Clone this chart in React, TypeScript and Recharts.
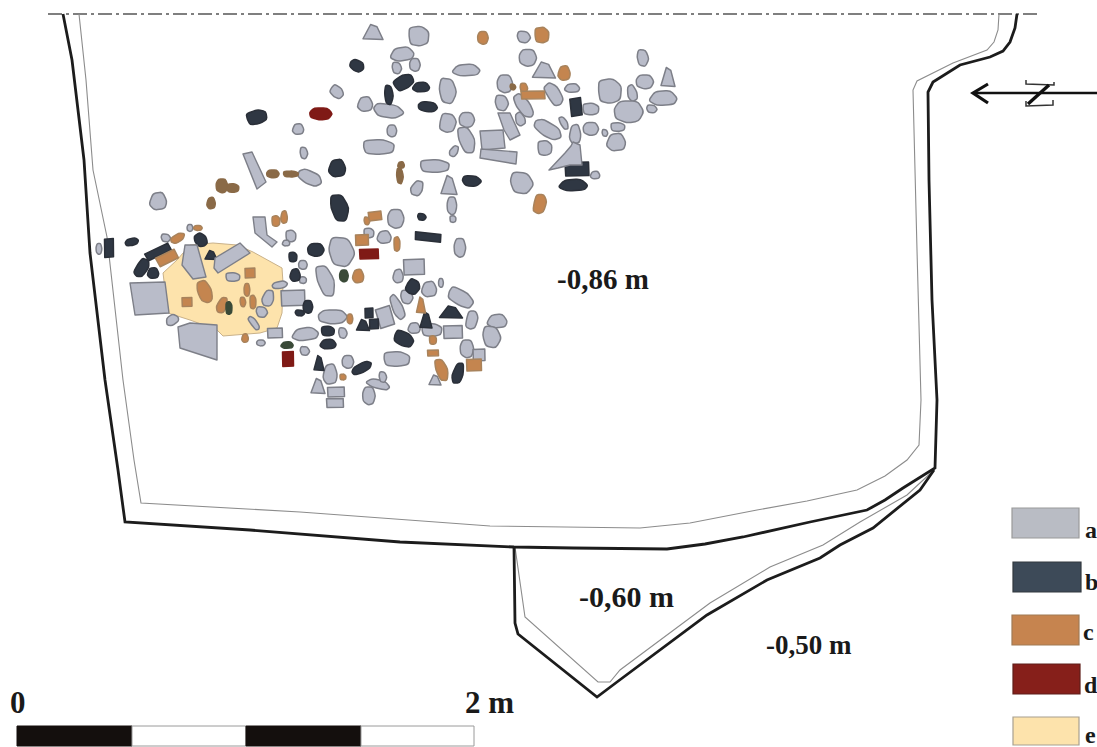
import { ReferenceArea, Scatter, ScatterChart, XAxis, YAxis } from 'recharts';

type Pt = [number, number];
// x, y, width, height, rotation, outline type
type Stone = [number, number, number, number, number?, number?];

// the trench edge
const datumLine: Pt[] = [[48, 14], [1040, 14]];
const outerEdge: Pt[] = [[63, 14], [72, 60], [78, 110], [84, 160], [90, 253], [105, 380], [118, 470], [125, 522], [250, 530], [400, 542], [514, 547], [573, 548], [667, 549], [705, 544], [743, 537], [810, 522], [867, 510], [885, 500], [903, 488], [935, 468], [937, 400], [932, 300], [929, 180], [928, 92], [933, 82], [960, 65], [990, 57], [1003, 51], [1010, 42], [1015, 28], [1017, 14]];
const innerEdge: Pt[] = [[79, 14], [86, 80], [93, 170], [107, 237], [123, 380], [134, 460], [141, 503], [300, 512], [490, 526], [640, 528], [690, 523], [757, 510], [807, 501], [857, 490], [885, 476], [907, 460], [919, 445], [921, 400], [917, 250], [913, 90], [917, 81], [953, 63], [987, 50], [994, 42], [998, 30], [999, 14]];
const lobeOuter: Pt[] = [[514, 547], [515, 623], [518, 634], [597, 697], [617, 682], [707, 615], [767, 580], [820, 558], [840, 545], [873, 528], [920, 490], [934, 470]];
const lobeInner: Pt[] = [[515, 547], [525, 617], [598, 682], [610, 682], [620, 670], [710, 603], [770, 567], [823, 545], [860, 522], [907, 495], [934, 470]];
const arrowShaft: Pt[] = [[974, 93], [1097, 93]];
const arrowHead: Pt[] = [[988, 84], [973, 93], [988, 103]];
const northTop: Pt[] = [[1026, 80], [1026, 84], [1054, 85], [1054, 82]];
const northBottom: Pt[] = [[1026, 101], [1026, 106], [1053, 105], [1053, 100]];
const northSlash: Pt[] = [[1049, 85], [1028, 104]];

// stones drawn with their own outline
const yellowPatch: Pt[] = [[163, 273], [177, 260], [190, 245], [213, 243], [237, 245], [253, 252], [282, 268], [283, 283], [282, 313], [277, 328], [260, 333], [223, 336], [217, 330], [190, 320], [168, 313]];
const bigGrey: Pt[][] = [
  [[130, 283], [165, 282], [169, 313], [135, 315]],
  [[178, 327], [190, 323], [217, 325], [217, 360], [180, 348]],
  [[185, 245], [197, 245], [206, 277], [193, 279], [182, 265]],
  [[215, 258], [240, 243], [250, 253], [218, 273], [214, 268]],
  [[253, 217], [265, 217], [267, 235], [277, 242], [272, 247], [255, 233]],
  [[549, 170], [565, 153], [571, 146], [573, 142], [580, 145], [582, 165], [570, 165], [558, 168]],
  [[243, 154], [252, 152], [266, 182], [257, 189]],
  [[480, 131], [503, 130], [505, 148], [482, 150]],
  [[481, 149], [517, 152], [516, 164], [480, 158]],
  [[498, 113], [510, 113], [520, 135], [510, 140], [504, 130]],
];

const greyStones: Stone[] = [
  [373, 32, 20, 15, 0, 5], [419, 36, 20, 20], [402, 54, 25, 14, -5], [397, 68, 10, 12], [415, 65, 11, 13], [337, 92, 14, 11, 40], [365, 104, 16, 15], [389, 111, 32, 14, 5], [392, 131, 10, 12], [379, 147, 31, 15], [298, 129, 12, 11], [304, 153, 8, 12], [310, 178, 26, 13, 25], [435, 166, 29, 13], [417, 188, 12, 16, 25],
  [524, 37, 14, 12], [528, 58, 18, 17], [544, 70, 23, 16, 0, 5], [466, 70, 29, 12], [448, 91, 18, 26], [505, 84, 16, 18], [554, 94, 13, 25, -30], [572, 88, 16, 9], [502, 103, 14, 16], [524, 106, 13, 27, -35], [610, 91, 23, 25], [632, 93, 10, 17, -15], [643, 58, 12, 17], [645, 82, 18, 14], [668, 77, 14, 19, 0, 5], [663, 98, 29, 15], [652, 109, 11, 8], [629, 112, 30, 22], [618, 127, 14, 9], [616, 142, 20, 18], [605, 133, 6, 7], [591, 129, 16, 13], [591, 109, 16, 12], [575, 134, 12, 20], [564, 123, 7, 14, -25], [548, 130, 31, 14, 30], [545, 148, 14, 15], [520, 119, 10, 14, -20], [467, 140, 16, 28, -15], [467, 120, 16, 15], [448, 123, 16, 19, 15], [454, 151, 8, 12, 30], [449, 185, 16, 19, 0, 5], [452, 206, 10, 18], [453, 219, 6, 7], [595, 175, 10, 8], [522, 183, 24, 22],
  [396, 219, 17, 19], [369, 233, 10, 10], [384, 237, 15, 13], [342, 252, 27, 30], [460, 248, 12, 19], [414, 267, 21, 16, 0, 4], [398, 276, 11, 14], [326, 281, 17, 33, -15], [303, 265, 9, 9], [303, 280, 7, 7], [429, 289, 16, 16], [407, 297, 13, 14], [441, 283, 5, 9], [461, 298, 27, 15, 30], [397, 307, 11, 27, -25], [385, 317, 15, 20, -15, 4], [333, 317, 30, 14], [472, 320, 11, 19, 15], [497, 321, 21, 14], [492, 337, 19, 22], [453, 332, 19, 13, 0, 4], [432, 330, 20, 13], [414, 328, 13, 11], [343, 333, 9, 11], [467, 349, 14, 18], [479, 355, 12, 12, 0, 4], [305, 334, 28, 13, -5], [305, 351, 10, 9], [348, 362, 12, 13], [397, 359, 26, 15], [330, 374, 15, 21], [318, 386, 14, 15, 0, 5], [336, 392, 17, 10, 0, 4], [335, 403, 17, 9, 0, 4], [378, 384, 25, 9, 15], [383, 377, 8, 11], [369, 396, 13, 18], [435, 380, 12, 10, 0, 5],
  [158, 201, 18, 18], [166, 238, 10, 8], [99, 249, 6, 11], [233, 277, 14, 9], [268, 298, 12, 17, 15], [262, 312, 12, 11], [280, 285, 16, 7, -10], [254, 323, 6, 16, -35], [172, 320, 14, 10, -30], [275, 333, 15, 10, 0, 4], [261, 343, 9, 6], [291, 236, 10, 12], [286, 243, 8, 6], [293, 298, 24, 16, 0, 4], [190, 228, 6, 7],
];
const darkStones: Stone[] = [
  [357, 66, 15, 11, 25], [404, 82, 20, 14, -30], [421, 87, 18, 10], [389, 95, 9, 20], [428, 107, 20, 10, 5], [257, 117, 20, 14, -15], [337, 168, 18, 18], [340, 208, 18, 28, -10],
  [576, 107, 11, 18, -5, 4], [577, 169, 24, 14, 0, 4], [573, 185, 30, 12], [472, 181, 20, 11],
  [316, 250, 17, 13], [293, 257, 8, 10], [295, 275, 11, 13], [422, 217, 9, 7], [428, 237, 26, 8, 7, 4], [413, 287, 13, 15, 35], [451, 312, 23, 12, 0, 5], [426, 320, 12, 16, 0, 5], [363, 325, 13, 11, 0, 5], [369, 313, 8, 10, 0, 4], [374, 324, 9, 10, 0, 4], [300, 313, 10, 6], [308, 307, 10, 13], [328, 331, 13, 10], [328, 344, 17, 10], [319, 363, 10, 15, 0, 5], [362, 368, 22, 9, -28], [404, 339, 20, 14, 25], [458, 373, 11, 22, 15],
  [109, 248, 9, 19, 0, 4], [132, 242, 14, 7, -15], [142, 268, 11, 20, 35], [153, 273, 12, 11], [158, 252, 26, 8, -25, 4], [201, 240, 12, 14, -35], [211, 255, 12, 9, 0, 5],
];
const orangeStones: Stone[] = [
  [483, 38, 11, 13], [542, 35, 14, 16], [564, 73, 13, 15], [524, 88, 8, 10], [533, 95, 24, 8, 0, 4], [540, 204, 12, 20, 15],
  [375, 216, 13, 9, -5, 4], [367, 221, 6, 8], [362, 240, 13, 11, 0, 4], [397, 244, 6, 15], [358, 276, 12, 14], [421, 305, 9, 16, 0, 5], [350, 319, 6, 10], [433, 340, 7, 9], [433, 353, 11, 6, 0, 4], [442, 370, 12, 23, -15], [474, 365, 15, 12, 0, 4], [343, 377, 6, 6],
  [167, 258, 21, 10, -25, 4], [178, 238, 16, 8, -35], [198, 228, 9, 5], [276, 221, 8, 11], [284, 217, 7, 13], [250, 273, 10, 10, 0, 4], [205, 292, 14, 23, -20], [187, 302, 10, 9, 0, 4], [222, 305, 10, 17, 20], [243, 302, 6, 10], [247, 290, 6, 13], [253, 302, 6, 14], [245, 338, 7, 9],
];
const brownStones: Stone[] = [
  [273, 174, 13, 8], [291, 174, 15, 6], [401, 165, 7, 7], [400, 176, 7, 16], [222, 186, 12, 14], [233, 188, 12, 9], [211, 203, 9, 12], [513, 87, 6, 6],
];
const redStones: Stone[] = [
  [321, 114, 23, 12], [369, 254, 19, 10, 0, 4], [288, 359, 11, 15, 0, 4],
];
const greenStones: Stone[] = [
  [344, 276, 9, 12], [229, 308, 6, 13], [287, 345, 13, 7],
];

const legendLabels = ['a', 'b', 'c', 'd', 'e'];
const legendTop = [508, 562, 615, 664, 717];
const legendBottom = [538, 592, 645, 694, 745];
const legendLeft = [1012, 1013, 1012, 1013, 1013];
const legendRight = [1079, 1081, 1079, 1080, 1079];
const legendBaseline = [538, 590, 640, 693, 743];
const legendTextX = [1085, 1085, 1083, 1084, 1085];

const scaleTicks = [17, 132, 246, 361, 474];

const depthLabels = ['-0,86 m', '-0,60 m', '-0,50 m'];
const depthX = [557, 579, 766];
const depthY = [289, 607, 654];
const depthSize = [29, 30, 27];

const scaleLabels = ['0', '2 m'];
const scaleLabelX = [10, 465];
const scaleLabelY = [713, 713];

const FONT = '"Liberation Serif", serif';
const GREY = { fill: '#b9bcc9', stroke: '#7d7f88' };
const DARK = { fill: '#2f3743', stroke: '#2a2f38' };
const ORANGE = { fill: '#c4854f', stroke: '#a8835c' };
const BROWN = { fill: '#8a6a47', stroke: '#8a6a47' };
const RED = { fill: '#7f1a16', stroke: '#7f1a16' };
const GREEN = { fill: '#3a4a38', stroke: '#3a4a38' };
const LEGEND_COLORS = [
  { fill: '#b9bcc4', stroke: '#9a9a9a' },
  { fill: '#3d4a58', stroke: '#33393f' },
  { fill: '#c6844f', stroke: '#a07a55' },
  { fill: '#861f1a', stroke: '#5f1f1a' },
  { fill: '#fde3ac', stroke: '#a8a090' },
];

const OUTLINES: Pt[][] = [
  [[-0.5, -0.15], [-0.3, -0.5], [0.28, -0.5], [0.5, -0.02], [0.32, 0.42], [-0.05, 0.5], [-0.45, 0.3]],
  [[-0.48, -0.42], [0.12, -0.5], [0.5, -0.2], [0.45, 0.35], [0.05, 0.5], [-0.42, 0.42], [-0.5, 0]],
  [[-0.5, 0.18], [-0.28, -0.42], [0.25, -0.5], [0.5, 0.02], [0.38, 0.42], [-0.2, 0.5]],
  [[-0.38, -0.5], [0.22, -0.45], [0.5, 0.05], [0.2, 0.5], [-0.32, 0.42], [-0.5, -0.08]],
  [[-0.5, -0.46], [0.48, -0.5], [0.5, 0.46], [-0.47, 0.5]],
  [[-0.12, -0.5], [0.2, -0.35], [0.5, 0.5], [-0.5, 0.45]],
];

function toPoints(line: Pt[]) {
  return line.map(([x, y]) => ({ x, y }));
}

function toStones(stones: Stone[]) {
  return stones.map(([x, y, w, h, rot, kind], i) => ({ x, y, w, h, rot: rot ?? 0, kind: kind ?? i % 4 }));
}

// keeps the sides straight and only rounds off each corner
function roundedPath(pts: Pt[], cut = 0.3) {
  const toward = (a: Pt, b: Pt): Pt => [a[0] + (b[0] - a[0]) * cut, a[1] + (b[1] - a[1]) * cut];
  let d = '';
  pts.forEach((p, i) => {
    const from = toward(p, pts[(i + pts.length - 1) % pts.length]);
    const to = toward(p, pts[(i + 1) % pts.length]);
    d += `${i === 0 ? 'M' : 'L'}${from[0]},${from[1]}Q${p[0]},${p[1]} ${to[0]},${to[1]}`;
  });
  return d + 'Z';
}

function StoneShape(props: any) {
  const { cx, cy, payload, fill, stroke } = props;
  const pts: Pt[] = OUTLINES[payload.kind].map(([a, b]) => [a * payload.w, b * payload.h]);
  const d = payload.kind < 4 ? roundedPath(pts) : `M${pts.map((p) => p.join(',')).join('L')}Z`;
  return (
    <path
      d={d}
      transform={`translate(${cx} ${cy}) rotate(${payload.rot})`}
      fill={fill}
      stroke={stroke}
      strokeWidth={1.5}
      strokeLinejoin="round"
    />
  );
}

function PolygonShape(props: any) {
  const { cx, cy, payload, fill, stroke, strokeWidth } = props;
  const pts = payload.outline.map(([a, b]: Pt) => `${cx + a - payload.x},${cy + b - payload.y}`).join(' ');
  return <polygon points={pts} fill={fill} stroke={stroke} strokeWidth={strokeWidth} strokeLinejoin="round" />;
}

function LabelShape(props: any) {
  const { cx, cy, payload } = props;
  return (
    <text x={cx} y={cy} fontFamily={FONT} fontWeight="bold" fontSize={payload.size} fill="#1a1a1a">
      {payload.label}
    </text>
  );
}

const NoDot = () => <g />;

const depthData = depthLabels.map((label, i) => ({ label, x: depthX[i], y: depthY[i], size: depthSize[i] }));
const scaleData = scaleLabels.map((label, i) => ({ label, x: scaleLabelX[i], y: scaleLabelY[i], size: 31 }));
const legendData = legendLabels.map((label, i) => ({ label, x: legendTextX[i], y: legendBaseline[i], size: 24 }));

const lines: { points: Pt[]; color: string; width: number; dash?: string }[] = [
  { points: datumLine, color: '#555', width: 1.6, dash: '14 4 3 4' },
  { points: innerEdge, color: '#8c8c8c', width: 1.1 },
  { points: lobeInner, color: '#8c8c8c', width: 1.1 },
  { points: outerEdge, color: '#1c1c1c', width: 2.8 },
  { points: lobeOuter, color: '#1c1c1c', width: 2.8 },
  { points: arrowShaft, color: '#111', width: 2.4 },
  { points: arrowHead, color: '#111', width: 3.2 },
  { points: northTop, color: '#333', width: 1.5 },
  { points: northBottom, color: '#333', width: 1.5 },
  { points: northSlash, color: '#111', width: 3.4 },
];

const stoneSeries = [
  { name: 'grey', data: greyStones, color: GREY },
  { name: 'dark', data: darkStones, color: DARK },
  { name: 'brown', data: brownStones, color: BROWN },
  { name: 'orange', data: orangeStones, color: ORANGE },
  { name: 'red', data: redStones, color: RED },
  { name: 'green', data: greenStones, color: GREEN },
];

export default function App() {
  return (
    <div style={{ position: 'absolute', left: 0, top: 0, width: 1097, height: 747, background: '#fff' }}>
      <ScatterChart width={1097} height={747} margin={{ top: 0, right: 0, bottom: 0, left: 0 }}>
        <XAxis type="number" dataKey="x" domain={[0, 1097]} hide allowDataOverflow />
        <YAxis type="number" dataKey="y" domain={[0, 747]} reversed hide allowDataOverflow />

        {legendLabels.map((label, i) => (
          <ReferenceArea
            key={label}
            x1={legendLeft[i]}
            x2={legendRight[i]}
            y1={legendTop[i]}
            y2={legendBottom[i]}
            fill={LEGEND_COLORS[i].fill}
            fillOpacity={1}
            stroke={LEGEND_COLORS[i].stroke}
            strokeWidth={1.2}
          />
        ))}
        {scaleTicks.slice(1).map((end, i) => (
          <ReferenceArea
            key={end}
            x1={scaleTicks[i]}
            x2={end}
            y1={726}
            y2={746}
            fill={i % 2 === 0 ? '#140f0d' : '#ffffff'}
            fillOpacity={1}
            stroke={i % 2 === 0 ? '#140f0d' : '#9a9a9a'}
            strokeWidth={1}
          />
        ))}

        {lines.map((l, i) => (
          <Scatter
            key={`line-${i}`}
            data={toPoints(l.points)}
            shape={NoDot}
            line={{ stroke: l.color, strokeWidth: l.width, strokeDasharray: l.dash, fill: 'none' }}
            isAnimationActive={false}
          />
        ))}

        <Scatter
          data={[{ x: yellowPatch[0][0], y: yellowPatch[0][1], outline: yellowPatch }]}
          shape={(p: any) => <PolygonShape {...p} fill="#fde3ac" stroke="#c9b189" strokeWidth={1} />}
          isAnimationActive={false}
        />
        {stoneSeries.map((s) => (
          <Scatter
            key={s.name}
            data={toStones(s.data)}
            shape={(p: any) => <StoneShape {...p} fill={s.color.fill} stroke={s.color.stroke} />}
            isAnimationActive={false}
          />
        ))}
        <Scatter
          data={bigGrey.map((outline) => ({ x: outline[0][0], y: outline[0][1], outline }))}
          shape={(p: any) => <PolygonShape {...p} fill={GREY.fill} stroke={GREY.stroke} strokeWidth={1.4} />}
          isAnimationActive={false}
        />

        <Scatter data={depthData} shape={LabelShape} isAnimationActive={false} />
        <Scatter data={scaleData} shape={LabelShape} isAnimationActive={false} />
        <Scatter data={legendData} shape={LabelShape} isAnimationActive={false} />
      </ScatterChart>
    </div>
  );
}
